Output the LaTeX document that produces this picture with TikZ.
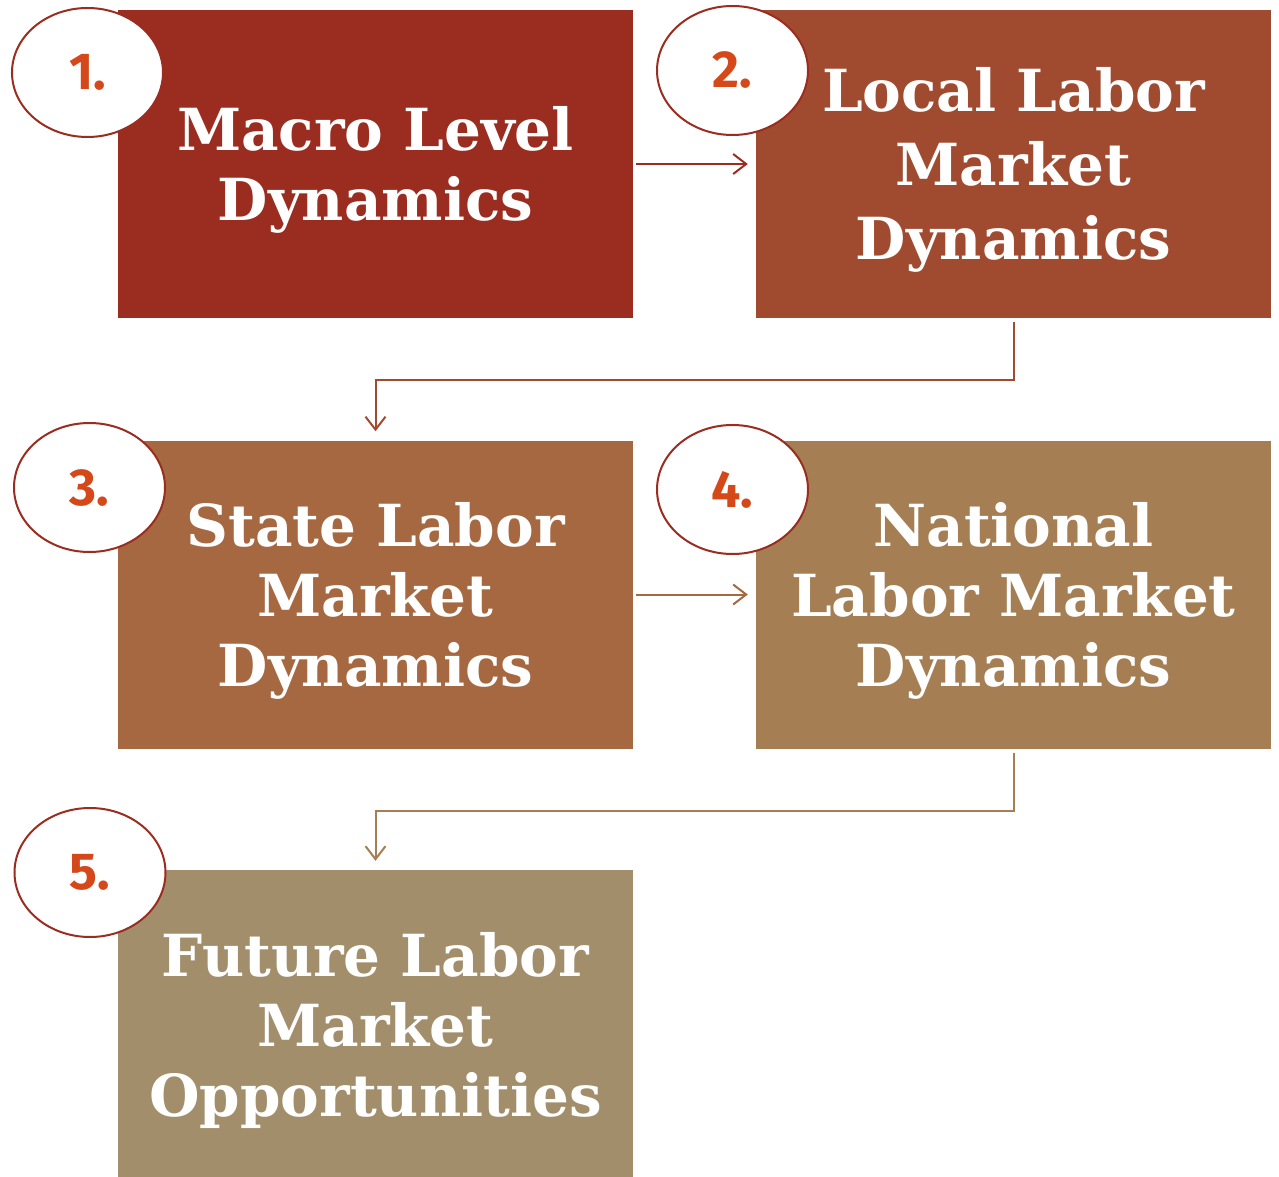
\documentclass[tikz,border=0pt]{standalone}
\usepackage{fontspec}
\usetikzlibrary{arrows.meta,shapes.geometric,positioning}
\newfontfamily\stagefont{DejaVu Serif}
\newfontfamily\badgefont{Fira Sans}
\definecolor{macrored}{HTML}{9B2D20}
\definecolor{localred}{HTML}{A04B30}
\definecolor{statebrown}{HTML}{A66841}
\definecolor{nationaltan}{HTML}{A57E54}
\definecolor{futuretan}{HTML}{A38E6B}
\definecolor{badgeorange}{HTML}{D4481A}

\begin{document}
\begin{tikzpicture}[x=1pt, y=-1pt,
        stage/.style={rectangle, minimum width=515pt, minimum height=308pt, inner sep=0pt},
        stagetext/.style={text=white, align=center, inner sep=0pt, yshift=-6pt,
            font=\stagefont\bfseries\fontsize{58}{70}\selectfont},
        badge/.style={ellipse, draw=macrored, line width=2pt, fill=white,
            minimum width=151pt, minimum height=129pt, inner sep=0pt,
            text=badgeorange, font=\badgefont\bfseries\fontsize{52}{52}\selectfont},
        flow/.style={line width=2pt, -{Straight Barb[length=13pt, width=20pt]}}]
    \useasboundingbox (0,0) rectangle (1279,1177);
    \node[stage, fill=macrored, label={[stagetext]center:{Macro Level\\Dynamics}}] (macro) at (375.5,164) {};
    \node[stage, fill=localred, label={[stagetext, font=\stagefont\bfseries\fontsize{58}{74}\selectfont]center:{Local Labor\\Market\\Dynamics}}] (local) at (1013.5,164) {};
    \node[stage, fill=statebrown, label={[stagetext]center:{State Labor\\Market\\Dynamics}}] (state) at (375.5,594.5) {};
    \node[stage, fill=nationaltan, label={[stagetext]center:{National\\Labor Market\\Dynamics}}] (national) at (1013.5,594.5) {};
    \node[stage, fill=futuretan, label={[stagetext]center:{Future Labor\\Market\\Opportunities}}] (future) at (375.5,1024) {};
    \node[badge] (b1) at (87.5,72.5) {1.};
    \node[badge] (b2) at (732.5,70.5) {2.};
    \node[badge] (b3) at (89.5,487.5) {3.};
    \node[badge] (b4) at (732.5,489.5) {4.};
    \node[badge] (b5) at (90,872.5) {5.};
    \draw[flow, draw=macrored, shorten <=3pt, shorten >=8pt] (macro) -- (local);
    \draw[flow, draw=localred, shorten <=4pt, shorten >=9pt] (local.south) -- ++(0,62) -| (state.north);
    \draw[flow, draw=statebrown, shorten <=3pt, shorten >=8pt] (state) -- (national);
    \draw[flow, draw=nationaltan, shorten <=4pt, shorten >=9pt] (national.south) -- ++(0,62) -| (future.north);
\end{tikzpicture}
\end{document}
